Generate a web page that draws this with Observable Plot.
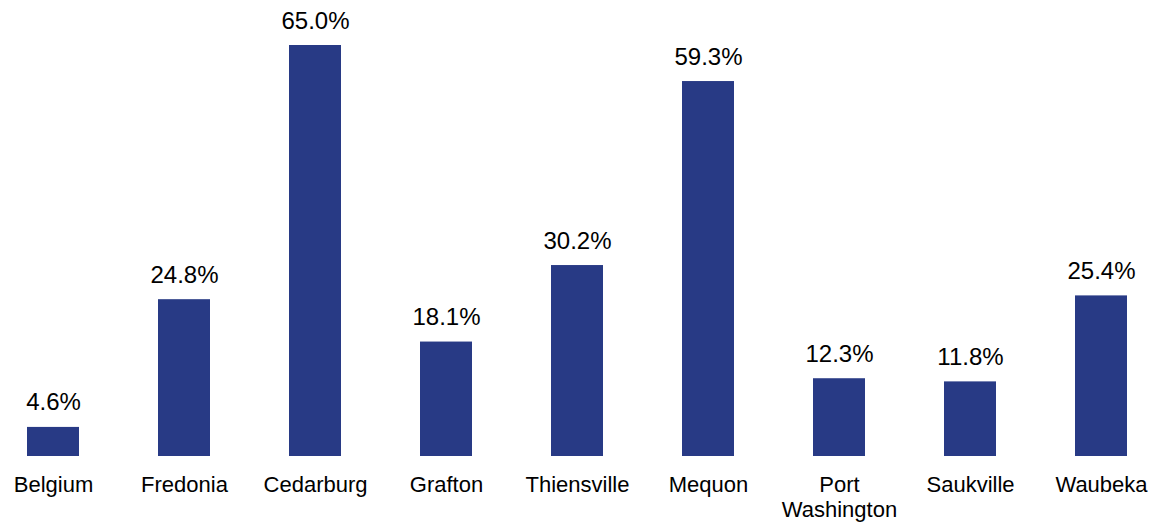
<!DOCTYPE html>
<html>
<head>
<meta charset="utf-8">
<script src="https://cdn.jsdelivr.net/npm/d3@7"></script>
<script src="https://cdn.jsdelivr.net/npm/@observablehq/plot@0.6"></script>
<style>
  html, body { margin: 0; padding: 0; background: #fff; }
  #chart { width: 1156px; height: 524px; }
</style>
</head>
<body>
<div id="chart"></div>
<script>
const places = ["Belgium", "Fredonia", "Cedarburg", "Grafton", "Thiensville", "Mequon", "Port Washington", "Saukville", "Waubeka"];
const shares = [4.6, 24.8, 65.0, 18.1, 30.2, 59.3, 12.3, 11.8, 25.4];
const valueLabels = ["4.6%", "24.8%", "65.0%", "18.1%", "30.2%", "59.3%", "12.3%", "11.8%", "25.4%"];
const tickLabels = ["Belgium", "Fredonia", "Cedarburg", "Grafton", "Thiensville", "Mequon", "Port\nWashington", "Saukville", "Waubeka"];

const data = places.map((p, i) => ({place: p, value: shares[i], label: valueLabels[i]}));
const tickMap = new Map(places.map((p, i) => [p, tickLabels[i]]));

const chart = Plot.plot({
  width: 1156,
  height: 524,
  marginLeft: 24,
  marginRight: 26,
  marginTop: 45,
  marginBottom: 68,
  style: {fontFamily: "'Liberation Sans', Arial, sans-serif", background: "#fff", color: "#000"},
  x: {domain: places, paddingInner: 0.6, paddingOuter: 0, label: null},
  y: {domain: [0, 65], axis: null},
  marks: [
    Plot.barY(data, {x: "place", y: "value", fill: "#283a85"}),
    Plot.text(data, {x: "place", y: "value", text: "label", dy: -17, lineAnchor: "bottom", fontSize: 24, fill: "#000"}),
    Plot.axisX({tickSize: 0, tickPadding: 18, fontSize: 22, lineHeight: 1.12, tickFormat: d => tickMap.get(d), fill: "#000"})
  ]
});
document.getElementById("chart").appendChild(chart);
</script>
</body>
</html>
